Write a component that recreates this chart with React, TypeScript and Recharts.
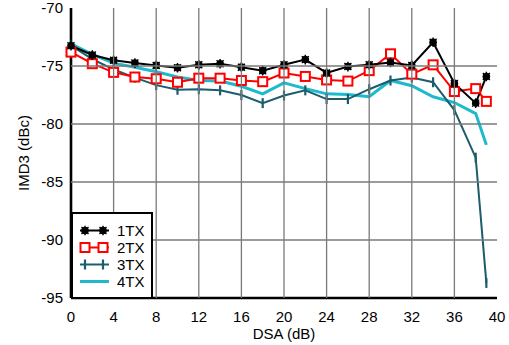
import {
  LineChart,
  Line,
  XAxis,
  YAxis,
  Label,
} from "recharts";

// DSA attenuation steps (dB)
const dsa = [0, 2, 4, 6, 8, 10, 12, 14, 16, 18, 20, 22, 24, 26, 28, 30, 32, 34, 36, 38, 39];

// IMD3 (dBc) per TX count
const tx1 = [-73.25, -74.05, -74.5, -74.75, -74.95, -75.15, -74.9, -74.8, -75.1, -75.4, -74.9, -74.45, -75.6, -75.05, -74.9, -74.7, -74.95, -72.95, -76.5, -78.2, -75.9];
const tx2 = [-73.8, -74.8, -75.55, -75.95, -76.1, -76.4, -76.05, -76.05, -76.25, -76.35, -75.6, -75.9, -76.2, -76.3, -75.4, -73.95, -75.7, -74.9, -77.2, -76.95, -78.05];
const tx3 = [-73.25, -74.4, -75.3, -76.0, -76.65, -77.05, -77.0, -77.1, -77.5, -78.2, -77.55, -77.1, -77.85, -77.85, -77.0, -76.25, -76.0, -76.4, -78.8, -82.9, -93.7];
const tx4 = [-73.1, -74.0, -74.75, -75.1, -75.5, -75.95, -76.25, -76.3, -76.75, -77.4, -76.45, -76.95, -77.4, -77.45, -77.65, -76.25, -76.7, -77.65, -78.15, -79.1, -81.8];

const xTicks = [0, 4, 8, 12, 16, 20, 24, 28, 32, 36, 40];
const yTicks = [-70, -75, -80, -85, -90, -95];

const data = dsa.map((d, i) => ({ dsa: d, tx1: tx1[i], tx2: tx2[i], tx3: tx3[i], tx4: tx4[i] }));

const FONT = "'Liberation Sans', Arial, sans-serif";
const GRID = "#7a7a7a";
const C1 = "#000000";
const C2 = "#ff0000";
const C3 = "#1c5c6c";
const C4 = "#1cbacc";

// plot box edges (chart margins + axis sizes)
const PLOT_L = 71;
const PLOT_R = 497;
const PLOT_T = 8;
const PLOT_B = 298;

const StarDot = (p: any) => {
  const { cx, cy } = p;
  if (cx == null || cy == null) return null;
  return (
    <g>
      <circle cx={cx} cy={cy} r={3.8} fill={C1} />
      <path
        d={`M${cx - 3.5},${cy - 3.5}L${cx + 3.5},${cy + 3.5}M${cx + 3.5},${cy - 3.5}L${cx - 3.5},${cy + 3.5}M${cx},${cy - 4.8}L${cx},${cy + 4.8}`}
        stroke={C1}
        strokeWidth={1.4}
      />
    </g>
  );
};

const SquareDot = (p: any) => {
  const { cx, cy } = p;
  if (cx == null || cy == null) return null;
  return <rect x={cx - 4.5} y={cy - 4.5} width={9} height={9} fill="#fff" stroke={C2} strokeWidth={2} />;
};

const BarDot = (p: any) => {
  const { cx, cy } = p;
  if (cx == null || cy == null) return null;
  return <path d={`M${cx},${cy - 5}L${cx},${cy + 5}`} stroke={C3} strokeWidth={2.2} />;
};

// ticks also carry the grid lines (the gray grid did not show otherwise)
const XTick = (p: any) => {
  const { x, payload } = p;
  const edge = payload.value === xTicks[0] || payload.value === xTicks[xTicks.length - 1];
  return (
    <g>
      {!edge && <line x1={x} x2={x} y1={PLOT_T} y2={PLOT_B} stroke={GRID} strokeWidth={1.3} />}
      <text x={x} y={PLOT_B + 24} textAnchor="middle" fill="#000" fontSize={15} fontFamily={FONT}>
        {payload.value}
      </text>
    </g>
  );
};

const YTick = (p: any) => {
  const { y, payload } = p;
  const edge = payload.value === yTicks[0] || payload.value === yTicks[yTicks.length - 1];
  return (
    <g>
      {!edge && <line x1={PLOT_L} x2={PLOT_R} y1={y} y2={y} stroke={GRID} strokeWidth={1.3} />}
      <text x={PLOT_L - 8} y={y + 5.3} textAnchor="end" fill="#000" fontSize={15} fontFamily={FONT}>
        {payload.value}
      </text>
    </g>
  );
};

const legendItems = [
  { name: "1TX", color: C1, mark: "star" },
  { name: "2TX", color: C2, mark: "square" },
  { name: "3TX", color: C3, mark: "bar" },
  { name: "4TX", color: C4, mark: "none" },
];

function LegendBox() {
  return (
    <div
      style={{
        position: "absolute",
        left: 71,
        top: 212,
        width: 82,
        height: 87,
        boxSizing: "border-box",
        border: "2px solid #000",
        background: "#fff",
        fontFamily: FONT,
        fontSize: 15,
        paddingTop: 8,
      }}
    >
      {legendItems.map((it) => (
        <div key={it.name} style={{ display: "flex", alignItems: "center", height: 17 }}>
          <svg width={44} height={17} style={{ display: "block" }}>
            <line x1={7} y1={8.5} x2={36} y2={8.5} stroke={it.color} strokeWidth={it.mark === "none" ? 3 : 2} />
            {[12, 30].map((cx) =>
              it.mark === "star" ? (
                <StarDot key={cx} cx={cx} cy={8.5} />
              ) : it.mark === "square" ? (
                <SquareDot key={cx} cx={cx} cy={8.5} />
              ) : it.mark === "bar" ? (
                <BarDot key={cx} cx={cx} cy={8.5} />
              ) : null
            )}
          </svg>
          <span style={{ lineHeight: "17px" }}>{it.name}</span>
        </div>
      ))}
    </div>
  );
}

const frameLine = { stroke: "#000", strokeWidth: 2.6 };

function App() {
  return (
    <div style={{ position: "absolute", left: 0, top: 0, width: 509, height: 345, background: "#fff" }}>
      <LineChart
        width={509}
        height={345}
        data={data}
        margin={{ top: PLOT_T, right: 509 - PLOT_R, left: 0, bottom: 0 }}
        style={{ fontFamily: FONT }}
      >
        <XAxis
          dataKey="dsa"
          type="number"
          domain={[0, 40]}
          ticks={xTicks}
          interval={0}
          height={345 - PLOT_B}
          tickLine={false}
          axisLine={frameLine}
          tick={<XTick />}
        >
          <Label
            content={() => (
              <text x={284} y={339} textAnchor="middle" fill="#000" fontSize={15} fontFamily={FONT}>
                DSA (dB)
              </text>
            )}
          />
        </XAxis>
        <XAxis
          xAxisId="top"
          orientation="top"
          type="number"
          domain={[0, 40]}
          ticks={xTicks}
          height={0}
          tick={false}
          tickLine={false}
          axisLine={frameLine}
        />
        <YAxis
          type="number"
          domain={[-95, -70]}
          ticks={yTicks}
          interval={0}
          width={PLOT_L}
          tickLine={false}
          axisLine={frameLine}
          tick={<YTick />}
        >
          <Label
            content={() => (
              <text
                x={29}
                y={153}
                transform="rotate(-90 29 153)"
                textAnchor="middle"
                fill="#000"
                fontSize={15}
                fontFamily={FONT}
              >
                IMD3 (dBc)
              </text>
            )}
          />
        </YAxis>
        <YAxis
          yAxisId="right"
          orientation="right"
          type="number"
          domain={[-95, -70]}
          ticks={yTicks}
          width={0}
          tick={false}
          tickLine={false}
          axisLine={frameLine}
        />
        <Line dataKey="tx4" stroke={C4} strokeWidth={3} dot={false} isAnimationActive={false} />
        <Line dataKey="tx3" stroke={C3} strokeWidth={2} dot={<BarDot />} isAnimationActive={false} />
        <Line dataKey="tx2" stroke={C2} strokeWidth={2} dot={<SquareDot />} isAnimationActive={false} />
        <Line dataKey="tx1" stroke={C1} strokeWidth={2} dot={<StarDot />} isAnimationActive={false} />
      </LineChart>
      <LegendBox />
    </div>
  );
}

export default App;
